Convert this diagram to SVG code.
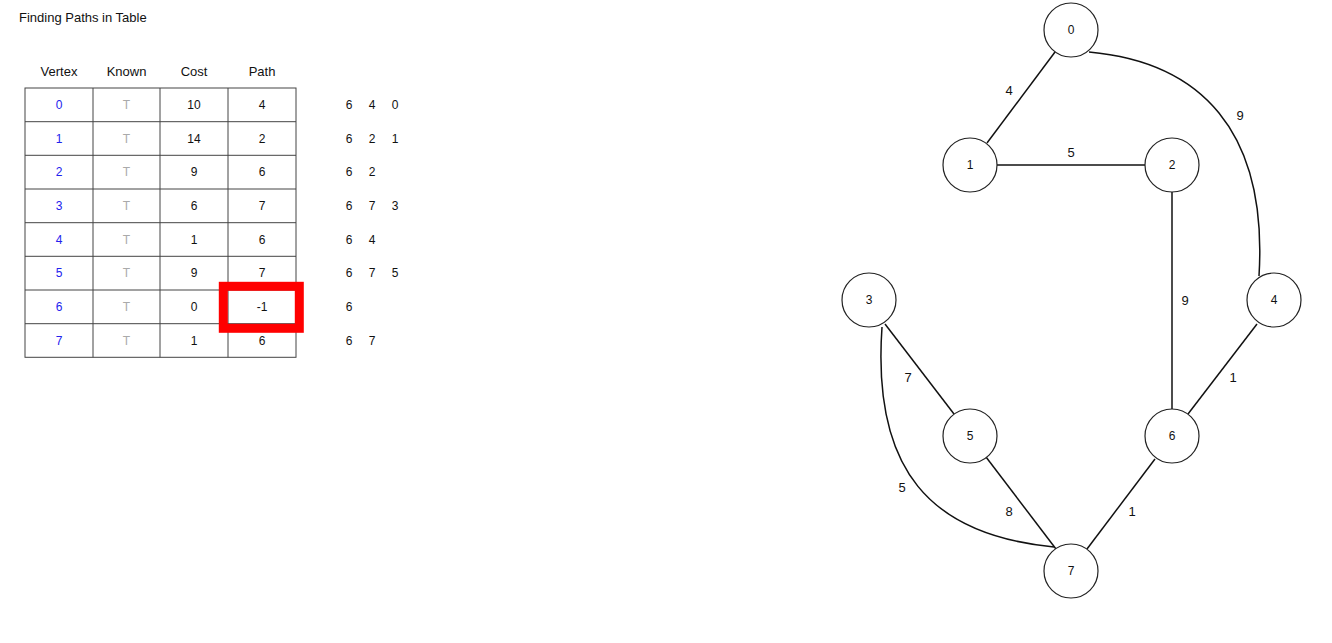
<svg xmlns="http://www.w3.org/2000/svg" width="1332" height="643" viewBox="0 0 1332 643">
<style>
text{font-family:"Liberation Sans",Arial,sans-serif;}
.t{font-size:13px;fill:#111;}
.h{font-size:13px;fill:#111;text-anchor:middle;}
.c{font-size:12px;fill:#111;text-anchor:middle;}
.v{font-size:12px;fill:#2222ee;text-anchor:middle;}
.k{font-size:12px;fill:#aaaaaa;text-anchor:middle;}
.grid{stroke:#444;stroke-width:1;fill:none;}
.node circle{fill:#fff;stroke:#222;stroke-width:1.2;}
.node text{font-size:12px;fill:#111;text-anchor:middle;}
.edge{stroke:#111;stroke-width:1.5;fill:none;}
.el{font-size:13px;fill:#111;text-anchor:middle;}
</style>
<rect width="1332" height="643" fill="#fff"/>
<text class="t" x="19" y="21.5">Finding Paths in Table</text>
<g id="table">
<text class="h" x="59" y="75.5">Vertex</text>
<text class="h" x="126.5" y="75.5">Known</text>
<text class="h" x="194" y="75.5">Cost</text>
<text class="h" x="262" y="75.5">Path</text>
<rect class="grid" x="25" y="88" width="271" height="269.3"/>
<path class="grid" d="M93,88V357.3M160,88V357.3M228,88V357.3M25,121.7H296M25,155.3H296M25,189H296M25,222.7H296M25,256.3H296M25,290H296M25,323.7H296"/>
<g id="row0"><text class="v" x="59" y="109">0</text><text class="k" x="126.5" y="109">T</text><text class="c" x="194" y="109">10</text><text class="c" x="262" y="109">4</text><text class="c" x="349" y="109">6</text><text class="c" x="372" y="109">4</text><text class="c" x="395" y="109">0</text></g>
<g id="row1"><text class="v" x="59" y="142.7">1</text><text class="k" x="126.5" y="142.7">T</text><text class="c" x="194" y="142.7">14</text><text class="c" x="262" y="142.7">2</text><text class="c" x="349" y="142.7">6</text><text class="c" x="372" y="142.7">2</text><text class="c" x="395" y="142.7">1</text></g>
<g id="row2"><text class="v" x="59" y="176.4">2</text><text class="k" x="126.5" y="176.4">T</text><text class="c" x="194" y="176.4">9</text><text class="c" x="262" y="176.4">6</text><text class="c" x="349" y="176.4">6</text><text class="c" x="372" y="176.4">2</text></g>
<g id="row3"><text class="v" x="59" y="210">3</text><text class="k" x="126.5" y="210">T</text><text class="c" x="194" y="210">6</text><text class="c" x="262" y="210">7</text><text class="c" x="349" y="210">6</text><text class="c" x="372" y="210">7</text><text class="c" x="395" y="210">3</text></g>
<g id="row4"><text class="v" x="59" y="243.7">4</text><text class="k" x="126.5" y="243.7">T</text><text class="c" x="194" y="243.7">1</text><text class="c" x="262" y="243.7">6</text><text class="c" x="349" y="243.7">6</text><text class="c" x="372" y="243.7">4</text></g>
<g id="row5"><text class="v" x="59" y="277.4">5</text><text class="k" x="126.5" y="277.4">T</text><text class="c" x="194" y="277.4">9</text><text class="c" x="262" y="277.4">7</text><text class="c" x="349" y="277.4">6</text><text class="c" x="372" y="277.4">7</text><text class="c" x="395" y="277.4">5</text></g>
<g id="row6"><text class="v" x="59" y="311">6</text><text class="k" x="126.5" y="311">T</text><text class="c" x="194" y="311">0</text><text class="c" x="262" y="311">-1</text><text class="c" x="349" y="311">6</text></g>
<g id="row7"><text class="v" x="59" y="344.7">7</text><text class="k" x="126.5" y="344.7">T</text><text class="c" x="194" y="344.7">1</text><text class="c" x="262" y="344.7">6</text><text class="c" x="349" y="344.7">6</text><text class="c" x="372" y="344.7">7</text></g>
<rect id="highlight" x="223.3" y="286.3" width="76" height="42" fill="none" stroke="#ff0000" stroke-width="9"/>
</g>
<g id="connectors">
<path class="edge" d="M1055,52L987,143"/>
<path class="edge" d="M997,165H1145"/>
<path class="edge" d="M1089,52C1200,62 1268,130 1259,276"/>
<path class="edge" d="M1172,192V409"/>
<path class="edge" d="M1257,324L1188,414"/>
<path class="edge" d="M885,324L954,414"/>
<path class="edge" d="M882,327C872,470 930,535 1054,547"/>
<path class="edge" d="M986,457L1056,549"/>
<path class="edge" d="M1155,459L1087,549"/>
<text class="el" x="1009" y="95">4</text>
<text class="el" x="1071" y="157">5</text>
<text class="el" x="1240" y="120">9</text>
<text class="el" x="1185" y="305">9</text>
<text class="el" x="1233" y="382">1</text>
<text class="el" x="908" y="382">7</text>
<text class="el" x="902" y="492">5</text>
<text class="el" x="1009" y="516">8</text>
<text class="el" x="1132" y="516">1</text>
</g>
<g id="n0" class="node"><circle cx="1071" cy="30" r="27"/><text x="1071" y="34.3">0</text></g>
<g id="n1" class="node"><circle cx="970" cy="165" r="27"/><text x="970" y="169.3">1</text></g>
<g id="n2" class="node"><circle cx="1172" cy="165" r="27"/><text x="1172" y="169.3">2</text></g>
<g id="n3" class="node"><circle cx="869" cy="300" r="27"/><text x="869" y="304.3">3</text></g>
<g id="n4" class="node"><circle cx="1274" cy="300" r="27"/><text x="1274" y="304.3">4</text></g>
<g id="n5" class="node"><circle cx="970" cy="436" r="27"/><text x="970" y="440.3">5</text></g>
<g id="n6" class="node"><circle cx="1172" cy="436" r="27"/><text x="1172" y="440.3">6</text></g>
<g id="n7" class="node"><circle cx="1071" cy="571" r="27"/><text x="1071" y="575.3">7</text></g>
</svg>
